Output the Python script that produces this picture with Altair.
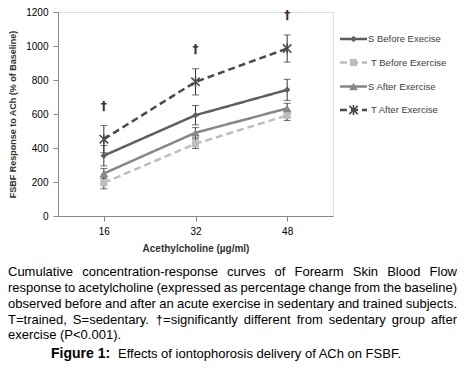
import altair as alt
import pandas as pd

# ---------------- data ----------------
doses = ["16", "32", "48"]
series_names = ["S Before Execise", "T Before Exercise", "S After Exercise", "T After Exercise"]
s_before = [355, 593, 742]
s_before_err = [60, 57, 62]
t_before = [195, 425, 592]
t_before_err = [35, 28, 30]
s_after = [250, 490, 633]
s_after_err = [30, 30, 30]
t_after = [452, 789, 985]
t_after_err = [80, 77, 80]
sig_doses = ["16", "32", "48"]
sig_symbol = "†"
y_ticks = [0, 200, 400, 600, 800, 1000, 1200]

x_title = "Acethylcholine (µg/ml)"
y_title = "FSBF Response to ACh (% of Baseline)"
caption_lines = [
    "Cumulative concentration-response curves of Forearm Skin Blood Flow",
    "response to acetylcholine (expressed as percentage change from the baseline)",
    "observed before and after an acute exercise in sedentary and trained subjects.",
    "T=trained, S=sedentary. †=significantly different from sedentary group after",
    "exercise (P<0.001).",
]
figure_label = "Figure 1:"
figure_text = "Effects of iontophorosis delivery of ACh on FSBF."

values = [s_before, t_before, s_after, t_after]
errors = [s_before_err, t_before_err, s_after_err, t_after_err]

# ---------------- layout / style ----------------
W, H = 275, 204
PAD_L, PAD_T = 50, 4
PAD_R = 449 - PAD_L - W
PAD_B = 355 - PAD_T - H

STAR = "M-1,-1L1,1M-1,1L1,-1M0,-1.2L0,1.2"
styles = {
    "S Before Execise": dict(color="#5e5e5e", dash=[1, 0], shape="diamond", size=42, filled=True),
    "T Before Exercise": dict(color="#bdbdbd", dash=[7, 4], shape="square", size=50, filled=True),
    "S After Exercise": dict(color="#878787", dash=[1, 0], shape="triangle-up", size=75, filled=True),
    "T After Exercise": dict(color="#4a4a4a", dash=[7, 4], shape=STAR, size=70, filled=False),
}

rows = []
for name, vals, errs in zip(series_names, values, errors):
    for d, v, e in zip(doses, vals, errs):
        rows.append({"series": name, "dose": d, "value": v, "lo": v - e, "hi": v + e})
df = pd.DataFrame(rows)

xaxis = alt.Axis(
    title=x_title, labelAngle=0, titleFontSize=10, titleFontWeight="bold",
    titleColor="#333333", titlePadding=7, labelPadding=5,
)
yaxis = alt.Axis(
    values=y_ticks, format="d", labelOverlap=False, title=y_title, titleFontSize=9,
    titleFontWeight="bold", titleColor="#333333", titlePadding=8, labelPadding=5,
    grid=False,
)
yscale = alt.Scale(domain=[0, 1200], nice=False)
xscale = alt.Scale(type="point", padding=0.5)


def X():
    return alt.X("dose:O", sort=doses, scale=xscale, axis=xaxis)


def Y(field):
    return alt.Y(field + ":Q", scale=yscale, axis=yaxis)


layers = []
# lines
for name in series_names:
    st = styles[name]
    layers.append(
        alt.Chart(df[df.series == name]).mark_line(
            color=st["color"], strokeWidth=2.5, strokeDash=st["dash"]
        ).encode(x=X(), y=Y("value"))
    )
# error bars
ebase = alt.Chart(df)
layers.append(
    ebase.mark_rule(color="#333333", strokeWidth=1).encode(x=X(), y=Y("lo"), y2="hi:Q")
)
layers.append(
    ebase.mark_tick(color="#333333", thickness=1, size=7, orient="horizontal").encode(
        x=X(), y=Y("lo")
    )
)
layers.append(
    ebase.mark_tick(color="#333333", thickness=1, size=7, orient="horizontal").encode(
        x=X(), y=Y("hi")
    )
)
# markers
for name in series_names:
    st = styles[name]
    if st["filled"]:
        mk = alt.Chart(df[df.series == name]).mark_point(
            shape=st["shape"], size=st["size"], filled=True, color=st["color"], opacity=1
        )
    else:
        mk = alt.Chart(df[df.series == name]).mark_point(
            shape=st["shape"], size=st["size"], filled=False, stroke=st["color"],
            strokeWidth=1.6, opacity=1
        )
    layers.append(mk.encode(x=X(), y=Y("value")))

# significance daggers
sig_df = df[(df.series == "T After Exercise") & (df.dose.isin(sig_doses))].copy()
sig_df["sym"] = sig_symbol
layers.append(
    alt.Chart(sig_df).mark_text(
        fontSize=12, fontWeight="bold", fill="#333333", baseline="middle", dy=-20,
        font="DejaVu Sans",
    ).encode(x=X(), y=Y("hi"), text="sym:N")
)

# legend (drawn manually)
leg_y = [27, 50.5, 74.5, 98]
for name, ly in zip(series_names, leg_y):
    st = styles[name]
    base = alt.Chart(pd.DataFrame({"label": [name]}))
    layers.append(
        base.mark_rule(color=st["color"], strokeWidth=2.5, strokeDash=st["dash"]).encode(
            x=alt.value(282), x2=alt.value(309), y=alt.value(ly)
        )
    )
    if st["filled"]:
        pm = base.mark_point(shape=st["shape"], size=st["size"], filled=True,
                             color=st["color"], opacity=1)
    else:
        pm = base.mark_point(shape=st["shape"], size=st["size"], filled=False,
                             stroke=st["color"], strokeWidth=1.6, opacity=1)
    layers.append(pm.encode(x=alt.value(295.5), y=alt.value(ly)))
    tx = 310 if st["dash"] == [1, 0] else 313
    layers.append(
        base.mark_text(align="left", baseline="middle", fontSize=9.5, color="#404040",
                       font="Liberation Sans").encode(
            x=alt.value(tx), y=alt.value(ly), text="label:N"
        )
    )

# caption with justified lines
ARIAL = {
    " ": 278, "(": 333, ")": 333, ",": 278, "-": 333, ".": 278, ":": 278, "<": 584, "=": 584,
    "†": 556, "%": 889,
    "A": 667, "B": 667, "C": 722, "D": 722, "E": 667, "F": 611, "G": 778, "H": 722, "I": 278,
    "J": 500, "K": 667, "L": 556, "M": 833, "N": 722, "O": 778, "P": 667, "Q": 778, "R": 722,
    "S": 667, "T": 611, "U": 722, "V": 667, "W": 944, "X": 667, "Y": 667, "Z": 611,
    "a": 556, "b": 556, "c": 500, "d": 556, "e": 556, "f": 278, "g": 556, "h": 556, "i": 222,
    "j": 222, "k": 500, "l": 222, "m": 833, "n": 556, "o": 556, "p": 556, "q": 556, "r": 333,
    "s": 500, "t": 278, "u": 556, "v": 500, "w": 722, "x": 500, "y": 500, "z": 500,
}
FS = 13


def tw(s):
    return sum(ARIAL.get(c, 556) for c in s) * FS / 1000.0


cap_left, cap_right = -50, 399
line_y = [260, 276, 292, 307.5, 323]
words = []
for i, (line, ly) in enumerate(zip(caption_lines, line_y)):
    ws = line.split(" ")
    if i < len(caption_lines) - 1 and len(ws) > 1:
        total = sum(tw(w) for w in ws)
        gap = (cap_right - cap_left - total) / (len(ws) - 1)
    else:
        gap = tw(" ")
    x = cap_left
    for w in ws:
        words.append({"w": w, "px": x, "py": ly})
        x += tw(w) + gap
wdf = pd.DataFrame(words)
layers.append(
    alt.Chart(wdf).mark_text(align="left", baseline="middle", fontSize=FS, color="#000000",
                             font="Liberation Sans").encode(
        x=alt.X("px:Q", scale=None, axis=None),
        y=alt.Y("py:Q", scale=None, axis=None),
        text="w:N",
    )
)
fig_df = pd.DataFrame({"t": [figure_label, figure_text], "px": [-7, 60], "py": [342, 342],
                       "wt": ["bold", "normal"]})
layers.append(
    alt.Chart(fig_df[fig_df.wt == "bold"]).mark_text(
        align="left", baseline="middle", fontSize=14, fontWeight="bold", color="#000000",
        font="Liberation Sans").encode(
        x=alt.X("px:Q", scale=None, axis=None), y=alt.Y("py:Q", scale=None, axis=None),
        text="t:N")
)
layers.append(
    alt.Chart(fig_df[fig_df.wt == "normal"]).mark_text(
        align="left", baseline="middle", fontSize=FS, color="#000000",
        font="Liberation Sans").encode(
        x=alt.X("px:Q", scale=None, axis=None), y=alt.Y("py:Q", scale=None, axis=None),
        text="t:N")
)

chart = alt.layer(*layers).properties(
    width=W, height=H,
    autosize=alt.AutoSizeParams(type="none"),
    padding={"left": PAD_L, "top": PAD_T, "right": PAD_R, "bottom": PAD_B},
).configure_view(stroke=None).configure_axis(
    labelFont="Liberation Sans", titleFont="Liberation Sans", labelFontSize=9,
    labelColor="#595959", domainColor="#8c8c8c", tickColor="#8c8c8c", tickSize=4,
    domainWidth=1, tickWidth=1, grid=False,
).configure(background="white")

chart.save("out.html", embed_options={"renderer": "svg", "actions": False})
